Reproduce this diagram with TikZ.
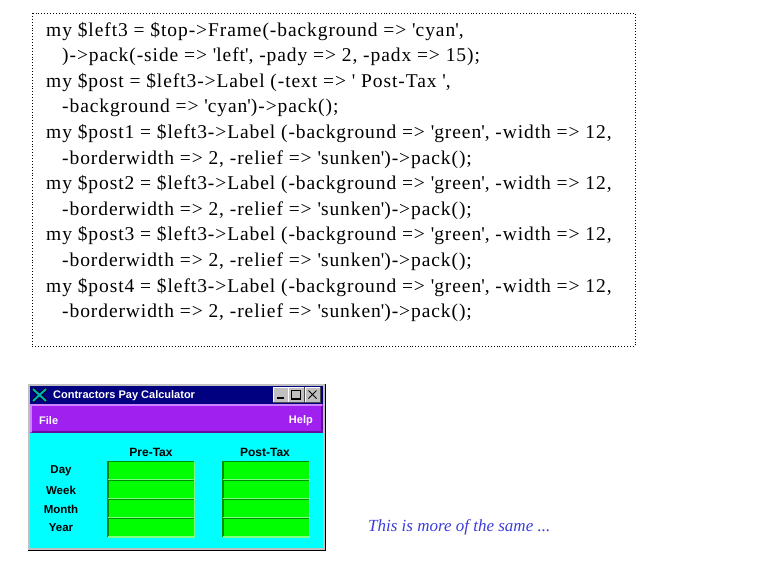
\documentclass[tikz,border=0pt]{standalone}
\usepackage{fontspec}
\setmainfont{Liberation Serif}
\newfontfamily\uifont{Liberation Sans}
\newfontfamily\codefont{Liberation Serif}[LetterSpace=4.7]
\usetikzlibrary{positioning}
\definecolor{navy}{RGB}{0,0,128}
\definecolor{tkpurple}{RGB}{160,32,240}
\definecolor{lightpurple}{RGB}{205,130,255}
\definecolor{darkpurple}{RGB}{100,15,160}
\definecolor{tkcyan}{RGB}{0,255,255}
\definecolor{tkgreen}{RGB}{0,255,0}
\definecolor{darkgreen}{RGB}{0,140,0}
\definecolor{lightgreen}{RGB}{130,255,130}
\definecolor{wingray}{RGB}{192,192,192}
\definecolor{noteblue}{RGB}{60,60,220}
\newcommand\sq{\textquotesingle}
\begin{document}
\begin{tikzpicture}[x=1pt,y=-1pt,
  codeline/.style={anchor=base west,inner sep=0pt,font=\codefont\fontsize{19.5}{22}\selectfont},
  uilabel/.style={inner sep=0pt,font=\uifont\bfseries\fontsize{11}{13}\selectfont},
  cell/.style={fill=tkgreen,minimum width=86pt,minimum height=18pt,inner sep=0pt,anchor=north west},
  winbtn/.style={fill=wingray,minimum width=15pt,minimum height=15pt,inner sep=0pt}]
\useasboundingbox (0,0) rectangle (768,576);
\draw[dotted,line width=0.9pt] (32,13) rectangle (635,346);
\node[codeline] (l1) at (46,36) {my \$left3 = \$top->Frame(-background => \sq cyan\sq,};
\node[codeline] (l2) at (62,61.6) {)->pack(-side => \sq left\sq, -pady => 2, -padx => 15);};
\node[codeline] (l3) at (46,87.2) {my \$post = \$left3->Label (-text => \sq\ Post-Tax \sq,};
\node[codeline] (l4) at (62,112.8) {-background => \sq cyan\sq)->pack();};
\foreach \i in {1,...,4}{
  \node[codeline] (p\i a) at (46,{36+25.6*(2*\i+2)}) {my \$post\i{} = \$left3->Label (-background => \sq green\sq, -width => 12,};
  \node[codeline] (p\i b) at (62,{36+25.6*(2*\i+3)}) {-borderwidth => 2, -relief => \sq sunken\sq)->pack();};
}
% window
\fill[wingray] (27,383) rectangle (326,551);
\draw[white] (27.5,550.5)--(27.5,383.5)--(325.5,383.5);
\draw[black] (325.5,383.5)--(325.5,550.5)--(27.5,550.5);
\fill[navy] (30,386) rectangle (323,404);
\draw[black,line width=3.5pt] (33,389)--(46,401) (46,389)--(33,401);
\draw[teal!60!cyan,line width=2pt] (33,389)--(46,401) (46,389)--(33,401);
\node[uilabel,white,anchor=west] (title) at (53,396) {Contractors Pay Calculator};
\node[winbtn] (minbtn) at (280.5,394.5) {};
\node[winbtn] (maxbtn) at (296,394.5) {};
\node[winbtn] (closebtn) at (312.5,394.5) {};
\foreach \b in {minbtn,maxbtn,closebtn}{
  \draw[white] (\b.south west)--(\b.north west)--(\b.north east);
  \draw[gray!60!black] (\b.north east)--(\b.south east)--(\b.south west);
}
\draw[line width=2pt] ([xshift=-4pt,yshift=4pt]minbtn.south)--([xshift=3pt,yshift=4pt]minbtn.south);
\draw[line width=0.8pt] ([shift={(-4.5pt,-4.5pt)}]maxbtn.center) rectangle ([shift={(4.5pt,4.5pt)}]maxbtn.center);
\draw[line width=1.6pt] ([shift={(-4.5pt,-4.5pt)}]maxbtn.center)--([shift={(4.5pt,-4.5pt)}]maxbtn.center);
\draw[line width=1pt] ([shift={(-4pt,-4pt)}]closebtn.center)--([shift={(4pt,4pt)}]closebtn.center)
  ([shift={(-4pt,4pt)}]closebtn.center)--([shift={(4pt,-4pt)}]closebtn.center);
\fill[tkpurple] (30,404) rectangle (323,433);
\draw[lightpurple,line width=2pt] (31,432)--(31,405)--(322,405);
\draw[darkpurple,line width=2pt] (322,406)--(322,432)--(32,432);
\node[uilabel,white,anchor=west] (filemenu) at (39,420.5) {File};
\node[uilabel,white,anchor=east] (helpmenu) at (313,420.5) {Help};
\fill[tkcyan] (30,433) rectangle (323,548);
\node[uilabel,font=\uifont\bfseries\fontsize{12}{14}\selectfont] (pretax) at (151,452) {Pre-Tax};
\node[uilabel,font=\uifont\bfseries\fontsize{12}{14}\selectfont] (posttax) at (265,452) {Post-Tax};
\foreach \i/\t in {1/Day,2/Week,3/Month,4/Year}{
  \node[uilabel,font=\uifont\bfseries\fontsize{11.5}{13}\selectfont] (row\i) at (61,{471+19*(\i-1)}) {\t};
  \node[cell] (pre\i) at (108,{461.5+19*(\i-1)}) {};
  \node[cell] (post\i) at (223,{461.5+19*(\i-1)}) {};
  \foreach \c in {pre\i,post\i}{
    \draw[darkgreen,line width=1.5pt] (\c.south west)--(\c.north west)--(\c.north east);
    \draw[lightgreen,line width=1.5pt] (\c.north east)--(\c.south east)--(\c.south west);
  }
}
\node[noteblue,anchor=west,inner sep=0pt,font=\itshape\fontsize{17}{19}\selectfont] (note) at (368,527) {This is more of the same ...};
\end{tikzpicture}
\end{document}
